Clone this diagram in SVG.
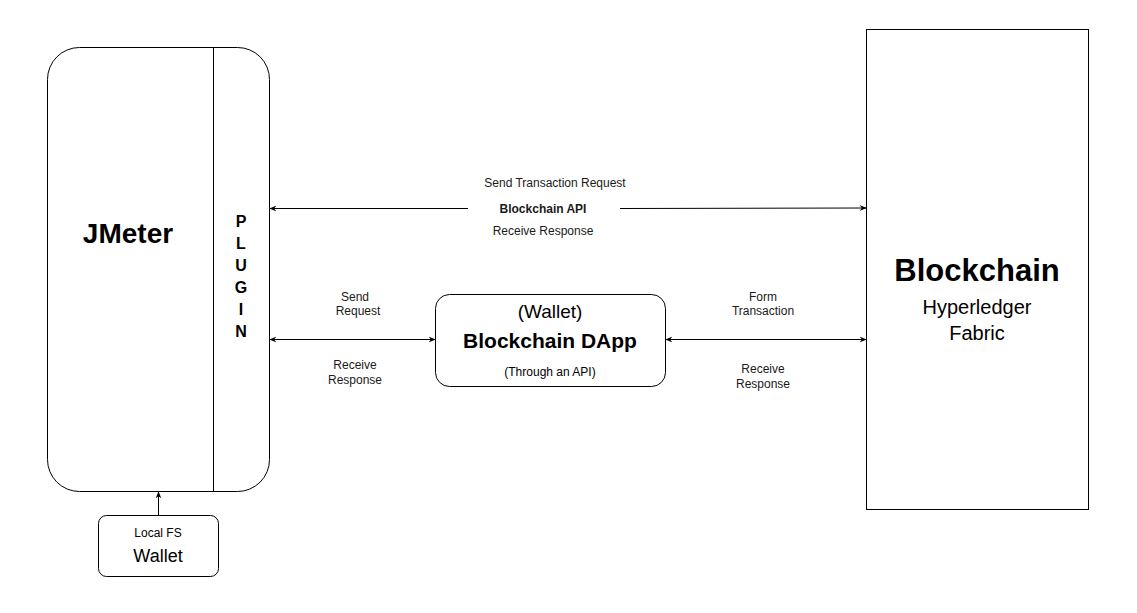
<svg xmlns="http://www.w3.org/2000/svg" width="1137" height="613" viewBox="0 0 1137 613">
<defs>
<style>
.box{fill:#fff;stroke:#000;stroke-width:1}
.t{font-family:"Liberation Sans",Arial,sans-serif;fill:#000;text-anchor:middle}
.lbl{font-size:12px;fill:#1a1a1a}
.c{stroke:#000;stroke-width:1;fill:none}
</style>
<marker id="ah" viewBox="0 0 10 10" refX="9" refY="5" markerWidth="7" markerHeight="7" orient="auto-start-reverse" markerUnits="userSpaceOnUse">
<path d="M0,1 L10,5 L0,9 L3,5 Z" fill="#000"/>
</marker>
</defs>
<rect width="1137" height="613" fill="#fff"/>
<g id="jmeter">
<rect class="box" x="47.5" y="47.5" width="222" height="444" rx="32" ry="32"/>
<line x1="213.5" y1="47.5" x2="213.5" y2="491.5" stroke="#000"/>
<text class="t" x="128" y="243" font-size="28" font-weight="bold">JMeter</text>
<g class="t" font-size="16" font-weight="bold">
<text x="241" y="227">P</text>
<text x="241" y="249">L</text>
<text x="241" y="271">U</text>
<text x="241" y="293">G</text>
<text x="241" y="315">I</text>
<text x="241" y="337">N</text>
</g>
</g>
<g id="blockchain">
<rect class="box" x="866.5" y="29.5" width="222" height="480"/>
<text class="t" x="977" y="281" font-size="31" font-weight="bold">Blockchain</text>
<text class="t" x="977" y="314" font-size="20" fill="#222">Hyperledger</text>
<text class="t" x="977" y="340" font-size="20" fill="#222">Fabric</text>
</g>
<g id="dapp">
<rect class="box" x="435.5" y="294.5" width="230" height="92" rx="14" ry="14"/>
<text class="t" x="550" y="318" font-size="19" fill="#111">(Wallet)</text>
<text class="t" x="550" y="348" font-size="21" font-weight="bold">Blockchain DApp</text>
<text class="t" x="550" y="376" font-size="12" fill="#222">(Through an API)</text>
</g>
<g id="wallet">
<rect class="box" x="98.5" y="515.5" width="120" height="61" rx="8" ry="8"/>
<text class="t" x="158" y="537" font-size="12" fill="#222">Local FS</text>
<text class="t" x="158" y="562" font-size="18" fill="#222">Wallet</text>
</g>
<g id="connectors">
<line class="c" x1="468" y1="208.5" x2="270" y2="208.5" marker-end="url(#ah)"/>
<line class="c" x1="620" y1="208.5" x2="866" y2="208" marker-end="url(#ah)"/>
<text class="t lbl" x="555" y="187">Send Transaction Request</text>
<text class="t lbl" x="543" y="213" font-weight="bold">Blockchain API</text>
<text class="t lbl" x="543" y="235">Receive Response</text>
<line class="c" x1="270" y1="339.5" x2="435" y2="339.5" marker-start="url(#ah)" marker-end="url(#ah)"/>
<text class="t lbl" x="355" y="301">Send</text>
<text class="t lbl" x="358" y="315">Request</text>
<text class="t lbl" x="355" y="369">Receive</text>
<text class="t lbl" x="355" y="384">Response</text>
<line class="c" x1="666" y1="339.5" x2="866" y2="339.5" marker-start="url(#ah)" marker-end="url(#ah)"/>
<text class="t lbl" x="763" y="301">Form</text>
<text class="t lbl" x="763" y="315">Transaction</text>
<text class="t lbl" x="763" y="373">Receive</text>
<text class="t lbl" x="763" y="388">Response</text>
<line class="c" x1="158.5" y1="515" x2="158.5" y2="492" marker-end="url(#ah)"/>
</g>
</svg>
